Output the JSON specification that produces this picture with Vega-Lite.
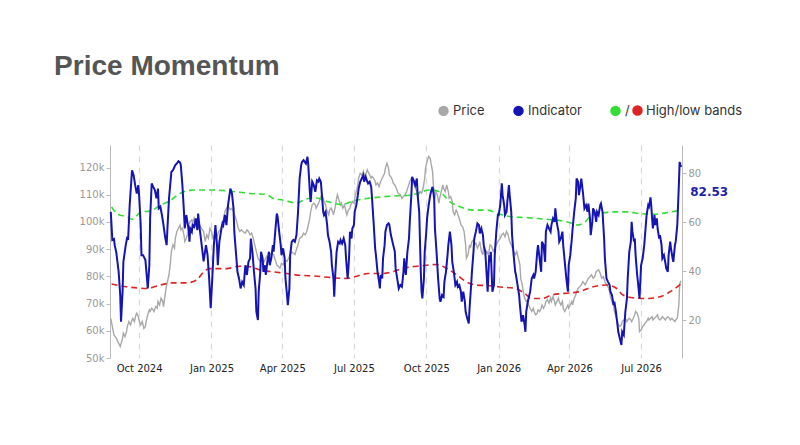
{
  "$schema": "https://vega.github.io/schema/vega-lite/v6.json",
  "width": 572,
  "height": 213,
  "autosize": {"type": "none"},
  "padding": {"left": 110, "top": 145, "right": 118, "bottom": 87},
  "background": "white",
  "title": {"text": "Price Momentum", "anchor": "start", "dx": -25, "offset": 23, "font": "Liberation Sans", "fontSize": 28, "fontWeight": "bold", "color": "#555555"},
  "config": {"view": {"stroke": null}, "font": "DejaVu Sans"},
  "datasets": {
    "price": [
      {"date":"2024-08-26","price":64600},{"date":"2024-08-30","price":58500},{"date":"2024-09-02","price":57300},{"date":"2024-09-05","price":55400},{"date":"2024-09-07","price":54200},{"date":"2024-09-10","price":57300},{"date":"2024-09-11","price":59100},{"date":"2024-09-13","price":57900},{"date":"2024-09-15","price":59700},{"date":"2024-09-16","price":61600},{"date":"2024-09-18","price":63400},{"date":"2024-09-20","price":62200},{"date":"2024-09-22","price":64000},{"date":"2024-09-23","price":64600},{"date":"2024-09-25","price":63400},{"date":"2024-09-27","price":65900},{"date":"2024-09-28","price":66500},{"date":"2024-09-30","price":65200},
      {"date":"2024-10-02","price":62800},{"date":"2024-10-03","price":62200},{"date":"2024-10-05","price":63400},{"date":"2024-10-07","price":60900},{"date":"2024-10-09","price":61600},{"date":"2024-10-10","price":63400},{"date":"2024-10-12","price":65900},{"date":"2024-10-14","price":67700},{"date":"2024-10-15","price":67100},{"date":"2024-10-17","price":68300},{"date":"2024-10-19","price":67700},{"date":"2024-10-20","price":67100},{"date":"2024-10-22","price":68900},{"date":"2024-10-24","price":68300},{"date":"2024-10-25","price":70800},{"date":"2024-10-27","price":69500},{"date":"2024-10-29","price":72000},{"date":"2024-10-31","price":70800},
      {"date":"2024-11-01","price":68900},{"date":"2024-11-03","price":73200},{"date":"2024-11-05","price":76900},{"date":"2024-11-06","price":78100},{"date":"2024-11-08","price":80600},{"date":"2024-11-10","price":85500},{"date":"2024-11-11","price":89200},{"date":"2024-11-13","price":91600},{"date":"2024-11-15","price":90400},{"date":"2024-11-16","price":94000},{"date":"2024-11-18","price":96500},{"date":"2024-11-20","price":97700},{"date":"2024-11-22","price":98900},{"date":"2024-11-23","price":97100},{"date":"2024-11-25","price":97700},{"date":"2024-11-27","price":95300},{"date":"2024-11-28","price":92800},{"date":"2024-11-30","price":94000},
      {"date":"2024-12-02","price":95900},{"date":"2024-12-03","price":98900},{"date":"2024-12-05","price":100200},{"date":"2024-12-07","price":100800},{"date":"2024-12-08","price":99600},{"date":"2024-12-10","price":101400},{"date":"2024-12-12","price":98900},{"date":"2024-12-13","price":99600},{"date":"2024-12-15","price":97700},{"date":"2024-12-17","price":98900},{"date":"2024-12-19","price":97700},{"date":"2024-12-22","price":96500},{"date":"2024-12-24","price":92800},{"date":"2024-12-26","price":95300},{"date":"2024-12-28","price":94000},{"date":"2024-12-30","price":97700},
      {"date":"2025-01-01","price":96500},{"date":"2025-01-03","price":94000},{"date":"2025-01-05","price":95300},{"date":"2025-01-08","price":94600},{"date":"2025-01-10","price":96500},{"date":"2025-01-12","price":97100},{"date":"2025-01-14","price":98900},{"date":"2025-01-16","price":100200},{"date":"2025-01-18","price":103800},{"date":"2025-01-20","price":105100},{"date":"2025-01-22","price":105700},{"date":"2025-01-25","price":104500},{"date":"2025-01-27","price":105100},{"date":"2025-01-29","price":103800},{"date":"2025-01-31","price":102000},
      {"date":"2025-02-02","price":100200},{"date":"2025-02-04","price":97700},{"date":"2025-02-06","price":96500},{"date":"2025-02-08","price":97100},{"date":"2025-02-10","price":96500},{"date":"2025-02-13","price":95900},{"date":"2025-02-15","price":97100},{"date":"2025-02-17","price":96500},{"date":"2025-02-19","price":95300},{"date":"2025-02-21","price":95900},{"date":"2025-02-23","price":94000},{"date":"2025-02-25","price":91600},{"date":"2025-02-27","price":89200},
      {"date":"2025-03-01","price":86700},{"date":"2025-03-04","price":85500},{"date":"2025-03-06","price":86700},{"date":"2025-03-08","price":84900},{"date":"2025-03-10","price":86100},{"date":"2025-03-12","price":87300},{"date":"2025-03-14","price":86100},{"date":"2025-03-16","price":87900},{"date":"2025-03-18","price":88500},{"date":"2025-03-21","price":87900},{"date":"2025-03-23","price":86100},{"date":"2025-03-25","price":84200},{"date":"2025-03-27","price":83600},{"date":"2025-03-29","price":83000},{"date":"2025-03-31","price":84800},
      {"date":"2025-04-02","price":84200},{"date":"2025-04-04","price":86100},{"date":"2025-04-07","price":85500},{"date":"2025-04-09","price":86700},{"date":"2025-04-11","price":88000},{"date":"2025-04-13","price":89000},{"date":"2025-04-15","price":88500},{"date":"2025-04-17","price":88000},{"date":"2025-04-19","price":90000},{"date":"2025-04-21","price":91600},{"date":"2025-04-23","price":94000},{"date":"2025-04-26","price":94600},{"date":"2025-04-28","price":95900},{"date":"2025-04-30","price":95300},
      {"date":"2025-05-02","price":96500},{"date":"2025-05-04","price":98900},{"date":"2025-05-06","price":101400},{"date":"2025-05-07","price":103800},{"date":"2025-05-09","price":106300},{"date":"2025-05-11","price":106900},{"date":"2025-05-13","price":106300},{"date":"2025-05-14","price":105100},{"date":"2025-05-16","price":106300},{"date":"2025-05-18","price":107500},{"date":"2025-05-19","price":108700},{"date":"2025-05-21","price":110000},{"date":"2025-05-23","price":108700},{"date":"2025-05-24","price":107500},{"date":"2025-05-26","price":106300},{"date":"2025-05-28","price":103800},{"date":"2025-05-30","price":102600},{"date":"2025-05-31","price":104400},
      {"date":"2025-06-02","price":105100},{"date":"2025-06-04","price":103800},{"date":"2025-06-05","price":102600},{"date":"2025-06-07","price":105100},{"date":"2025-06-09","price":108700},{"date":"2025-06-10","price":110000},{"date":"2025-06-12","price":108100},{"date":"2025-06-14","price":106300},{"date":"2025-06-15","price":106900},{"date":"2025-06-17","price":105100},{"date":"2025-06-19","price":106300},{"date":"2025-06-21","price":103800},{"date":"2025-06-22","price":102600},{"date":"2025-06-24","price":104400},{"date":"2025-06-26","price":105100},{"date":"2025-06-27","price":106300},{"date":"2025-06-29","price":107500},
      {"date":"2025-07-01","price":106900},{"date":"2025-07-02","price":108700},{"date":"2025-07-04","price":111200},{"date":"2025-07-06","price":113600},{"date":"2025-07-07","price":116100},{"date":"2025-07-09","price":117900},{"date":"2025-07-11","price":117300},{"date":"2025-07-13","price":118500},{"date":"2025-07-14","price":116700},{"date":"2025-07-16","price":117300},{"date":"2025-07-18","price":119200},{"date":"2025-07-19","price":118500},{"date":"2025-07-21","price":117300},{"date":"2025-07-23","price":116100},{"date":"2025-07-24","price":116700},{"date":"2025-07-26","price":116100},{"date":"2025-07-28","price":114900},{"date":"2025-07-29","price":113600},{"date":"2025-07-31","price":114300},
      {"date":"2025-08-02","price":113000},{"date":"2025-08-04","price":114900},{"date":"2025-08-05","price":115500},{"date":"2025-08-07","price":116700},{"date":"2025-08-09","price":117900},{"date":"2025-08-10","price":119800},{"date":"2025-08-12","price":121600},{"date":"2025-08-14","price":119800},{"date":"2025-08-15","price":117300},{"date":"2025-08-18","price":116100},{"date":"2025-08-20","price":114300},{"date":"2025-08-22","price":113600},{"date":"2025-08-24","price":112400},{"date":"2025-08-26","price":110600},{"date":"2025-08-29","price":110000},{"date":"2025-08-31","price":108700},
      {"date":"2025-09-02","price":109400},{"date":"2025-09-04","price":110000},{"date":"2025-09-06","price":111200},{"date":"2025-09-08","price":113000},{"date":"2025-09-10","price":114900},{"date":"2025-09-12","price":116100},{"date":"2025-09-14","price":114900},{"date":"2025-09-17","price":112400},{"date":"2025-09-19","price":111200},{"date":"2025-09-21","price":110000},{"date":"2025-09-23","price":111200},{"date":"2025-09-25","price":110600},{"date":"2025-09-27","price":112400},{"date":"2025-09-29","price":116100},{"date":"2025-09-30","price":119800},
      {"date":"2025-10-02","price":122200},{"date":"2025-10-04","price":124100},{"date":"2025-10-06","price":123400},{"date":"2025-10-07","price":121600},{"date":"2025-10-09","price":118500},{"date":"2025-10-10","price":113600},{"date":"2025-10-12","price":108700},{"date":"2025-10-13","price":111200},{"date":"2025-10-15","price":110000},{"date":"2025-10-17","price":106900},{"date":"2025-10-18","price":108700},{"date":"2025-10-20","price":111200},{"date":"2025-10-22","price":113600},{"date":"2025-10-23","price":112400},{"date":"2025-10-25","price":111200},{"date":"2025-10-27","price":113600},{"date":"2025-10-29","price":111200},{"date":"2025-10-30","price":108700},
      {"date":"2025-11-01","price":109300},{"date":"2025-11-03","price":107500},{"date":"2025-11-04","price":103800},{"date":"2025-11-06","price":102600},{"date":"2025-11-08","price":104400},{"date":"2025-11-09","price":103800},{"date":"2025-11-11","price":102000},{"date":"2025-11-13","price":100200},{"date":"2025-11-14","price":98900},{"date":"2025-11-16","price":98300},{"date":"2025-11-18","price":96500},{"date":"2025-11-20","price":91600},{"date":"2025-11-21","price":86700},{"date":"2025-11-23","price":87900},{"date":"2025-11-25","price":91600},{"date":"2025-11-26","price":90400},{"date":"2025-11-28","price":92800},{"date":"2025-11-30","price":93400},
      {"date":"2025-12-01","price":91600},{"date":"2025-12-03","price":92200},{"date":"2025-12-05","price":90400},{"date":"2025-12-07","price":91600},{"date":"2025-12-08","price":92800},{"date":"2025-12-10","price":89200},{"date":"2025-12-12","price":87900},{"date":"2025-12-13","price":91600},{"date":"2025-12-15","price":87900},{"date":"2025-12-17","price":89200},{"date":"2025-12-19","price":87900},{"date":"2025-12-21","price":91600},{"date":"2025-12-23","price":91000},{"date":"2025-12-25","price":89200},{"date":"2025-12-27","price":90400},{"date":"2025-12-29","price":91600},{"date":"2025-12-31","price":92800},
      {"date":"2026-01-03","price":94000},{"date":"2026-01-05","price":95300},{"date":"2026-01-07","price":95900},{"date":"2026-01-09","price":94600},{"date":"2026-01-11","price":96500},{"date":"2026-01-13","price":95300},{"date":"2026-01-15","price":92800},{"date":"2026-01-17","price":91600},{"date":"2026-01-20","price":89200},{"date":"2026-01-22","price":87900},{"date":"2026-01-24","price":89200},{"date":"2026-01-26","price":86700},{"date":"2026-01-28","price":84200},{"date":"2026-01-29","price":79300},{"date":"2026-01-31","price":76900},
      {"date":"2026-02-02","price":73200},{"date":"2026-02-03","price":72000},{"date":"2026-02-05","price":70800},{"date":"2026-02-07","price":71400},{"date":"2026-02-08","price":69500},{"date":"2026-02-10","price":68300},{"date":"2026-02-12","price":67100},{"date":"2026-02-14","price":68300},{"date":"2026-02-15","price":67100},{"date":"2026-02-17","price":65900},{"date":"2026-02-19","price":66500},{"date":"2026-02-20","price":67700},{"date":"2026-02-22","price":67100},{"date":"2026-02-24","price":68300},{"date":"2026-02-25","price":69500},{"date":"2026-02-27","price":68300},
      {"date":"2026-03-01","price":69500},{"date":"2026-03-02","price":70800},{"date":"2026-03-04","price":71400},{"date":"2026-03-06","price":70200},{"date":"2026-03-08","price":72000},{"date":"2026-03-09","price":70800},{"date":"2026-03-11","price":72600},{"date":"2026-03-13","price":70800},{"date":"2026-03-14","price":69500},{"date":"2026-03-16","price":70800},{"date":"2026-03-18","price":72000},{"date":"2026-03-19","price":70800},{"date":"2026-03-21","price":69500},{"date":"2026-03-23","price":70800},{"date":"2026-03-24","price":68300},{"date":"2026-03-26","price":67100},{"date":"2026-03-28","price":68300},{"date":"2026-03-30","price":69500},{"date":"2026-03-31","price":68300},
      {"date":"2026-04-02","price":69500},{"date":"2026-04-04","price":70800},{"date":"2026-04-05","price":69500},{"date":"2026-04-07","price":72000},{"date":"2026-04-09","price":73200},{"date":"2026-04-10","price":74400},{"date":"2026-04-12","price":75600},{"date":"2026-04-14","price":76200},{"date":"2026-04-16","price":76900},{"date":"2026-04-18","price":78100},{"date":"2026-04-21","price":76900},{"date":"2026-04-23","price":78100},{"date":"2026-04-25","price":79300},{"date":"2026-04-27","price":79900},{"date":"2026-04-29","price":80600},
      {"date":"2026-05-01","price":79300},{"date":"2026-05-03","price":79900},{"date":"2026-05-05","price":81800},{"date":"2026-05-08","price":82400},{"date":"2026-05-10","price":81200},{"date":"2026-05-12","price":79300},{"date":"2026-05-14","price":79900},{"date":"2026-05-16","price":78100},{"date":"2026-05-18","price":76900},{"date":"2026-05-20","price":76200},{"date":"2026-05-22","price":74400},{"date":"2026-05-23","price":72600},{"date":"2026-05-25","price":70800},{"date":"2026-05-27","price":69500},{"date":"2026-05-28","price":67100},{"date":"2026-05-30","price":65200},
      {"date":"2026-06-01","price":63400},{"date":"2026-06-02","price":62200},{"date":"2026-06-04","price":61600},{"date":"2026-06-06","price":62200},{"date":"2026-06-07","price":63400},{"date":"2026-06-09","price":64000},{"date":"2026-06-11","price":64600},{"date":"2026-06-13","price":63400},{"date":"2026-06-14","price":64000},{"date":"2026-06-16","price":64600},{"date":"2026-06-18","price":64000},{"date":"2026-06-19","price":63400},{"date":"2026-06-21","price":64600},{"date":"2026-06-23","price":65900},{"date":"2026-06-24","price":67100},{"date":"2026-06-26","price":66500},{"date":"2026-06-28","price":64600},{"date":"2026-06-29","price":59700},
      {"date":"2026-07-01","price":60300},{"date":"2026-07-03","price":61600},{"date":"2026-07-05","price":62200},{"date":"2026-07-06","price":62800},{"date":"2026-07-08","price":63400},{"date":"2026-07-10","price":64600},{"date":"2026-07-11","price":64000},{"date":"2026-07-13","price":64600},{"date":"2026-07-15","price":65200},{"date":"2026-07-16","price":64000},{"date":"2026-07-18","price":64600},{"date":"2026-07-20","price":65200},{"date":"2026-07-22","price":65900},{"date":"2026-07-23","price":64600},{"date":"2026-07-25","price":64000},{"date":"2026-07-27","price":64600},{"date":"2026-07-28","price":65200},{"date":"2026-07-30","price":64600},
      {"date":"2026-08-01","price":64000},{"date":"2026-08-02","price":64600},{"date":"2026-08-04","price":65200},{"date":"2026-08-06","price":64600},{"date":"2026-08-07","price":64000},{"date":"2026-08-09","price":64600},{"date":"2026-08-11","price":64000},{"date":"2026-08-13","price":63400},{"date":"2026-08-14","price":64000},{"date":"2026-08-16","price":64600},{"date":"2026-08-18","price":69500},{"date":"2026-08-19","price":76900},{"date":"2026-08-20","price":78100},{"date":"2026-08-21","price":77800}
    ],
    "indicator": [
      {"date":"2024-08-26","value":64.2},{"date":"2024-08-28","value":52.7},{"date":"2024-08-30","value":53.1},{"date":"2024-08-31","value":50.6},{"date":"2024-09-02","value":47.6},{"date":"2024-09-05","value":39.7},{"date":"2024-09-07","value":30.2},{"date":"2024-09-08","value":19.3},{"date":"2024-09-10","value":31.6},{"date":"2024-09-11","value":43.8},{"date":"2024-09-14","value":50.6},{"date":"2024-09-16","value":54},{"date":"2024-09-17","value":52.7},{"date":"2024-09-19","value":66.9},{"date":"2024-09-22","value":81.2},{"date":"2024-09-24","value":79.2},{"date":"2024-09-26","value":75.1},{"date":"2024-09-28","value":71.7},{"date":"2024-09-30","value":75.1},
      {"date":"2024-10-01","value":71},{"date":"2024-10-03","value":58.8},{"date":"2024-10-04","value":46.5},{"date":"2024-10-06","value":46.5},{"date":"2024-10-09","value":44.5},{"date":"2024-10-11","value":37},{"date":"2024-10-12","value":32.9},{"date":"2024-10-14","value":42.4},{"date":"2024-10-15","value":61.5},{"date":"2024-10-17","value":75.8},{"date":"2024-10-19","value":74.4},{"date":"2024-10-21","value":73.1},{"date":"2024-10-23","value":69.7},{"date":"2024-10-25","value":73.7},{"date":"2024-10-26","value":65.6},{"date":"2024-10-28","value":66.3},{"date":"2024-10-30","value":62.9},
      {"date":"2024-11-01","value":58.8},{"date":"2024-11-03","value":54},{"date":"2024-11-05","value":50.6},{"date":"2024-11-06","value":57.4},{"date":"2024-11-08","value":69.7},{"date":"2024-11-11","value":80.5},{"date":"2024-11-13","value":81.2},{"date":"2024-11-16","value":83.3},{"date":"2024-11-18","value":84},{"date":"2024-11-20","value":84.9},{"date":"2024-11-22","value":84.4},{"date":"2024-11-23","value":83.3},{"date":"2024-11-25","value":75.1},{"date":"2024-11-27","value":64.2},{"date":"2024-11-28","value":57.4},{"date":"2024-11-30","value":62.9},
      {"date":"2024-12-01","value":60.8},{"date":"2024-12-03","value":56.7},{"date":"2024-12-04","value":52},{"date":"2024-12-05","value":57.4},{"date":"2024-12-07","value":56.1},{"date":"2024-12-08","value":58.8},{"date":"2024-12-10","value":58.1},{"date":"2024-12-12","value":61.5},{"date":"2024-12-14","value":56.7},{"date":"2024-12-15","value":63.5},{"date":"2024-12-17","value":57.4},{"date":"2024-12-19","value":52},{"date":"2024-12-22","value":44},{"date":"2024-12-25","value":50.6},{"date":"2024-12-27","value":46.5},{"date":"2024-12-29","value":37},{"date":"2024-12-31","value":24.8},
      {"date":"2025-01-02","value":37},{"date":"2025-01-04","value":50.6},{"date":"2025-01-06","value":58.8},{"date":"2025-01-08","value":50.6},{"date":"2025-01-09","value":42.4},{"date":"2025-01-11","value":51.9},{"date":"2025-01-13","value":56.1},{"date":"2025-01-15","value":59.5},{"date":"2025-01-16","value":58.8},{"date":"2025-01-18","value":62.9},{"date":"2025-01-20","value":58.8},{"date":"2025-01-22","value":66.9},{"date":"2025-01-25","value":73.7},{"date":"2025-01-27","value":71.7},{"date":"2025-01-29","value":65.6},{"date":"2025-01-30","value":56.1},
      {"date":"2025-02-01","value":47.9},{"date":"2025-02-03","value":39.7},{"date":"2025-02-05","value":37},{"date":"2025-02-07","value":32.9},{"date":"2025-02-09","value":35.6},{"date":"2025-02-11","value":34.3},{"date":"2025-02-13","value":42.4},{"date":"2025-02-15","value":38.4},{"date":"2025-02-17","value":43.8},{"date":"2025-02-19","value":45.2},{"date":"2025-02-20","value":53.3},{"date":"2025-02-22","value":47.9},{"date":"2025-02-24","value":39.7},{"date":"2025-02-26","value":32.9},{"date":"2025-02-27","value":23.4},
      {"date":"2025-03-01","value":20},{"date":"2025-03-02","value":31.6},{"date":"2025-03-04","value":39.7},{"date":"2025-03-05","value":47.9},{"date":"2025-03-07","value":45.2},{"date":"2025-03-08","value":39.7},{"date":"2025-03-10","value":42.4},{"date":"2025-03-11","value":38.4},{"date":"2025-03-13","value":43.8},{"date":"2025-03-15","value":47.9},{"date":"2025-03-16","value":42.4},{"date":"2025-03-18","value":45.2},{"date":"2025-03-20","value":50.6},{"date":"2025-03-21","value":47.9},{"date":"2025-03-23","value":56.1},{"date":"2025-03-25","value":63.5},{"date":"2025-03-26","value":62.2},{"date":"2025-03-28","value":56.1},{"date":"2025-03-30","value":50.6},{"date":"2025-03-31","value":46.5},
      {"date":"2025-04-02","value":49.3},{"date":"2025-04-04","value":45.2},{"date":"2025-04-05","value":37},{"date":"2025-04-07","value":30.2},{"date":"2025-04-08","value":26.1},{"date":"2025-04-10","value":32.9},{"date":"2025-04-11","value":46.5},{"date":"2025-04-13","value":52},{"date":"2025-04-15","value":52.7},{"date":"2025-04-17","value":52},{"date":"2025-04-19","value":54.7},{"date":"2025-04-21","value":64.2},{"date":"2025-04-23","value":77.8},{"date":"2025-04-25","value":83.3},{"date":"2025-04-26","value":84.6},{"date":"2025-04-28","value":85.3},
      {"date":"2025-05-01","value":83.9},{"date":"2025-05-03","value":86.7},{"date":"2025-05-04","value":83.3},{"date":"2025-05-06","value":72.4},{"date":"2025-05-07","value":68.3},{"date":"2025-05-09","value":76.5},{"date":"2025-05-11","value":75.1},{"date":"2025-05-13","value":72.4},{"date":"2025-05-15","value":77.1},{"date":"2025-05-17","value":76.5},{"date":"2025-05-18","value":77.8},{"date":"2025-05-20","value":76.5},{"date":"2025-05-21","value":72.4},{"date":"2025-05-23","value":64.2},{"date":"2025-05-24","value":62.9},{"date":"2025-05-26","value":64.2},{"date":"2025-05-28","value":58.8},{"date":"2025-05-29","value":54.7},{"date":"2025-05-31","value":52},
      {"date":"2025-06-02","value":47.9},{"date":"2025-06-03","value":42.4},{"date":"2025-06-05","value":37},{"date":"2025-06-06","value":29.5},{"date":"2025-06-07","value":37},{"date":"2025-06-09","value":47.9},{"date":"2025-06-11","value":52},{"date":"2025-06-13","value":51.3},{"date":"2025-06-14","value":52.7},{"date":"2025-06-16","value":51.3},{"date":"2025-06-18","value":53.3},{"date":"2025-06-20","value":50.6},{"date":"2025-06-21","value":45.2},{"date":"2025-06-23","value":37},{"date":"2025-06-24","value":41.1},{"date":"2025-06-25","value":46.5},{"date":"2025-06-26","value":56.1},{"date":"2025-06-28","value":53.3},{"date":"2025-06-29","value":57.4},
      {"date":"2025-07-01","value":58.8},{"date":"2025-07-02","value":64.2},{"date":"2025-07-04","value":66.9},{"date":"2025-07-06","value":71},{"date":"2025-07-07","value":73.7},{"date":"2025-07-09","value":76.5},{"date":"2025-07-11","value":77.8},{"date":"2025-07-13","value":79.2},{"date":"2025-07-14","value":76.5},{"date":"2025-07-16","value":78.5},{"date":"2025-07-18","value":76.5},{"date":"2025-07-19","value":75.8},{"date":"2025-07-21","value":76.5},{"date":"2025-07-23","value":74.4},{"date":"2025-07-24","value":69.9},{"date":"2025-07-26","value":60.1},{"date":"2025-07-28","value":49.3},{"date":"2025-07-29","value":46.5},{"date":"2025-07-31","value":39.7},
      {"date":"2025-08-02","value":35.6},{"date":"2025-08-03","value":32.9},{"date":"2025-08-04","value":38.4},{"date":"2025-08-06","value":37},{"date":"2025-08-07","value":45.2},{"date":"2025-08-09","value":50.6},{"date":"2025-08-10","value":56.1},{"date":"2025-08-12","value":58.8},{"date":"2025-08-14","value":59.5},{"date":"2025-08-15","value":59},{"date":"2025-08-17","value":54.7},{"date":"2025-08-20","value":50.6},{"date":"2025-08-22","value":47.9},{"date":"2025-08-23","value":41.1},{"date":"2025-08-25","value":37},{"date":"2025-08-27","value":32.9},{"date":"2025-08-29","value":34.3},{"date":"2025-08-31","value":33.6},
      {"date":"2025-09-02","value":39.7},{"date":"2025-09-03","value":45.2},{"date":"2025-09-04","value":41.1},{"date":"2025-09-05","value":38.4},{"date":"2025-09-07","value":47.9},{"date":"2025-09-09","value":53.3},{"date":"2025-09-10","value":60.1},{"date":"2025-09-12","value":71},{"date":"2025-09-13","value":78.5},{"date":"2025-09-15","value":77.1},{"date":"2025-09-17","value":75.1},{"date":"2025-09-19","value":77.8},{"date":"2025-09-20","value":71},{"date":"2025-09-22","value":64.2},{"date":"2025-09-23","value":52},{"date":"2025-09-24","value":39.7},{"date":"2025-09-25","value":31.6},{"date":"2025-09-26","value":28.8},{"date":"2025-09-28","value":37},{"date":"2025-09-29","value":47.9},
      {"date":"2025-10-01","value":56.1},{"date":"2025-10-02","value":61.5},{"date":"2025-10-04","value":66.9},{"date":"2025-10-06","value":71},{"date":"2025-10-07","value":72.4},{"date":"2025-10-09","value":74.4},{"date":"2025-10-11","value":69.7},{"date":"2025-10-12","value":57.4},{"date":"2025-10-14","value":47.9},{"date":"2025-10-16","value":37},{"date":"2025-10-18","value":28.8},{"date":"2025-10-19","value":27.5},{"date":"2025-10-21","value":30.2},{"date":"2025-10-23","value":29.5},{"date":"2025-10-24","value":35.6},{"date":"2025-10-26","value":39.7},{"date":"2025-10-28","value":46.5},{"date":"2025-10-29","value":50.6},{"date":"2025-10-31","value":56.1},
      {"date":"2025-11-02","value":50.6},{"date":"2025-11-03","value":43.8},{"date":"2025-11-05","value":39.7},{"date":"2025-11-07","value":34.3},{"date":"2025-11-09","value":35.6},{"date":"2025-11-10","value":33.6},{"date":"2025-11-12","value":34.3},{"date":"2025-11-14","value":31.6},{"date":"2025-11-15","value":27.5},{"date":"2025-11-17","value":31.6},{"date":"2025-11-19","value":27.5},{"date":"2025-11-20","value":23.4},{"date":"2025-11-22","value":20.7},{"date":"2025-11-24","value":18.6},{"date":"2025-11-25","value":24.8},{"date":"2025-11-27","value":34.3},{"date":"2025-11-28","value":39.7},{"date":"2025-11-30","value":47.9},
      {"date":"2025-12-01","value":53.3},{"date":"2025-12-03","value":56.1},{"date":"2025-12-05","value":59.5},{"date":"2025-12-07","value":58.8},{"date":"2025-12-08","value":55.4},{"date":"2025-12-10","value":57.4},{"date":"2025-12-12","value":54.7},{"date":"2025-12-13","value":50.6},{"date":"2025-12-15","value":47.9},{"date":"2025-12-16","value":42.4},{"date":"2025-12-18","value":31.6},{"date":"2025-12-20","value":46.5},{"date":"2025-12-21","value":43.8},{"date":"2025-12-22","value":47.9},{"date":"2025-12-24","value":31.6},{"date":"2025-12-26","value":34.3},{"date":"2025-12-27","value":46.5},{"date":"2025-12-29","value":56.1},{"date":"2025-12-31","value":62.9},
      {"date":"2026-01-01","value":62.9},{"date":"2026-01-03","value":66.9},{"date":"2026-01-05","value":75.8},{"date":"2026-01-06","value":71},{"date":"2026-01-08","value":66.9},{"date":"2026-01-09","value":62.9},{"date":"2026-01-11","value":64.2},{"date":"2026-01-12","value":68.3},{"date":"2026-01-14","value":75.1},{"date":"2026-01-15","value":71},{"date":"2026-01-17","value":64.2},{"date":"2026-01-18","value":54.7},{"date":"2026-01-20","value":46.5},{"date":"2026-01-22","value":39.7},{"date":"2026-01-23","value":38.4},{"date":"2026-01-25","value":34.3},{"date":"2026-01-27","value":30.2},{"date":"2026-01-28","value":26.1},{"date":"2026-01-30","value":19.3},
      {"date":"2026-02-01","value":22},{"date":"2026-02-03","value":18},{"date":"2026-02-04","value":15.2},{"date":"2026-02-05","value":23.4},{"date":"2026-02-07","value":27.5},{"date":"2026-02-08","value":28.8},{"date":"2026-02-10","value":31.6},{"date":"2026-02-12","value":37},{"date":"2026-02-14","value":38.4},{"date":"2026-02-15","value":37},{"date":"2026-02-17","value":39.7},{"date":"2026-02-19","value":47.9},{"date":"2026-02-20","value":50.6},{"date":"2026-02-22","value":45.2},{"date":"2026-02-24","value":39.7},{"date":"2026-02-25","value":52},{"date":"2026-02-27","value":50.6},
      {"date":"2026-03-01","value":43.8},{"date":"2026-03-02","value":56.1},{"date":"2026-03-04","value":58.8},{"date":"2026-03-06","value":57.4},{"date":"2026-03-08","value":56.1},{"date":"2026-03-09","value":58.8},{"date":"2026-03-11","value":61.5},{"date":"2026-03-13","value":60.1},{"date":"2026-03-14","value":65.6},{"date":"2026-03-16","value":59.5},{"date":"2026-03-18","value":56.1},{"date":"2026-03-19","value":52},{"date":"2026-03-21","value":53.3},{"date":"2026-03-23","value":56.1},{"date":"2026-03-24","value":50.6},{"date":"2026-03-26","value":43.8},{"date":"2026-03-28","value":37},{"date":"2026-03-30","value":31.6},{"date":"2026-03-31","value":42.4},
      {"date":"2026-04-02","value":46.5},{"date":"2026-04-04","value":53.3},{"date":"2026-04-05","value":57.4},{"date":"2026-04-07","value":64.2},{"date":"2026-04-09","value":69.7},{"date":"2026-04-10","value":77.8},{"date":"2026-04-12","value":76.5},{"date":"2026-04-13","value":71},{"date":"2026-04-15","value":75.1},{"date":"2026-04-16","value":77.8},{"date":"2026-04-18","value":72.4},{"date":"2026-04-20","value":65.6},{"date":"2026-04-22","value":66.9},{"date":"2026-04-24","value":64.2},{"date":"2026-04-25","value":67.6},{"date":"2026-04-27","value":61.5},{"date":"2026-04-28","value":54.7},{"date":"2026-04-30","value":60.1},
      {"date":"2026-05-01","value":65.6},{"date":"2026-05-03","value":64.2},{"date":"2026-05-05","value":60.1},{"date":"2026-05-06","value":64.2},{"date":"2026-05-08","value":62.9},{"date":"2026-05-10","value":66.9},{"date":"2026-05-11","value":67.6},{"date":"2026-05-13","value":64.2},{"date":"2026-05-15","value":53.3},{"date":"2026-05-16","value":45.2},{"date":"2026-05-18","value":37},{"date":"2026-05-20","value":35.6},{"date":"2026-05-22","value":34.3},{"date":"2026-05-23","value":31.6},{"date":"2026-05-25","value":30.2},{"date":"2026-05-27","value":26.1},{"date":"2026-05-28","value":27.5},{"date":"2026-05-30","value":23.4},
      {"date":"2026-06-01","value":18},{"date":"2026-06-02","value":15.2},{"date":"2026-06-04","value":12.5},{"date":"2026-06-06","value":9.8},{"date":"2026-06-07","value":15.2},{"date":"2026-06-09","value":13.9},{"date":"2026-06-11","value":23.4},{"date":"2026-06-13","value":28.8},{"date":"2026-06-14","value":37},{"date":"2026-06-16","value":47.9},{"date":"2026-06-18","value":52},{"date":"2026-06-19","value":60.1},{"date":"2026-06-20","value":56.1},{"date":"2026-06-22","value":52},{"date":"2026-06-23","value":53.3},{"date":"2026-06-24","value":46.5},{"date":"2026-06-26","value":38.4},{"date":"2026-06-27","value":35.6},{"date":"2026-06-29","value":28.8},{"date":"2026-06-30","value":35.6},
      {"date":"2026-07-01","value":42.4},{"date":"2026-07-03","value":45.2},{"date":"2026-07-05","value":50.6},{"date":"2026-07-06","value":54.7},{"date":"2026-07-08","value":62.9},{"date":"2026-07-10","value":66.9},{"date":"2026-07-11","value":66.3},{"date":"2026-07-13","value":70.1},{"date":"2026-07-14","value":66.3},{"date":"2026-07-15","value":61.5},{"date":"2026-07-16","value":57.4},{"date":"2026-07-18","value":62.9},{"date":"2026-07-19","value":58.8},{"date":"2026-07-21","value":61.5},{"date":"2026-07-22","value":57.4},{"date":"2026-07-24","value":53.3},{"date":"2026-07-25","value":54.7},{"date":"2026-07-27","value":50.6},{"date":"2026-07-28","value":45.2},{"date":"2026-07-30","value":46.5},
      {"date":"2026-08-01","value":43.1},{"date":"2026-08-02","value":41.1},{"date":"2026-08-04","value":39.7},{"date":"2026-08-05","value":46.5},{"date":"2026-08-07","value":52},{"date":"2026-08-08","value":49.3},{"date":"2026-08-10","value":45.2},{"date":"2026-08-11","value":43.8},{"date":"2026-08-13","value":50.6},{"date":"2026-08-14","value":52},{"date":"2026-08-16","value":58.8},{"date":"2026-08-18","value":75.1},{"date":"2026-08-19","value":84.6},{"date":"2026-08-20","value":83.3},{"date":"2026-08-21","value":82.53}
    ],
    "high": [
      {"date":"2024-08-27","value":66.2},{"date":"2024-09-04","value":63.2},{"date":"2024-09-15","value":62.2},{"date":"2024-09-22","value":61.2},{"date":"2024-10-04","value":64.2},{"date":"2024-10-15","value":64.5},{"date":"2024-10-28","value":66.9},{"date":"2024-11-09","value":68.7},{"date":"2024-11-22","value":71.7},{"date":"2024-12-09","value":73.1},{"date":"2025-01-03","value":73.1},{"date":"2025-02-06","value":72.2},{"date":"2025-02-19","value":71.7},{"date":"2025-03-12","value":71.3},{"date":"2025-03-20","value":69.7},{"date":"2025-04-02","value":69},{"date":"2025-04-19","value":67.8},{"date":"2025-04-30","value":69.3},{"date":"2025-05-12","value":70},{"date":"2025-05-29","value":68.3},{"date":"2025-06-15","value":67.2},{"date":"2025-07-02","value":68.8},{"date":"2025-07-19","value":69.7},{"date":"2025-08-05","value":70.3},{"date":"2025-08-22","value":70.7},{"date":"2025-09-10","value":71},{"date":"2025-10-06","value":73.1},{"date":"2025-10-18","value":72.4},{"date":"2025-10-31","value":68.3},{"date":"2025-11-13","value":66.3},{"date":"2025-11-29","value":64.9},{"date":"2025-12-17","value":64.9},{"date":"2025-12-31","value":63.5},{"date":"2026-01-17","value":62.2},{"date":"2026-02-07","value":61.8},{"date":"2026-03-01","value":61.2},{"date":"2026-03-17","value":60.8},{"date":"2026-04-04","value":59.5},{"date":"2026-04-10","value":58.8},{"date":"2026-04-21","value":60.1},{"date":"2026-04-27","value":62.2},{"date":"2026-05-10","value":63.5},{"date":"2026-05-26","value":64.2},{"date":"2026-06-13","value":64.2},{"date":"2026-06-29","value":63.5},{"date":"2026-07-16","value":63.2},{"date":"2026-08-02","value":63.8},{"date":"2026-08-21","value":65}
    ],
    "low": [
      {"date":"2024-08-27","value":34.7},{"date":"2024-09-15","value":33.6},{"date":"2024-10-11","value":32.9},{"date":"2024-10-28","value":34.3},{"date":"2024-11-13","value":35.2},{"date":"2024-11-30","value":35.2},{"date":"2024-12-13","value":36.3},{"date":"2024-12-22","value":39.7},{"date":"2024-12-30","value":41},{"date":"2025-01-20","value":41},{"date":"2025-02-06","value":42},{"date":"2025-02-19","value":41.8},{"date":"2025-03-04","value":40.4},{"date":"2025-03-20","value":39.7},{"date":"2025-04-07","value":39},{"date":"2025-04-23","value":38.3},{"date":"2025-05-12","value":38},{"date":"2025-06-07","value":37.2},{"date":"2025-06-23","value":37},{"date":"2025-07-02","value":37.7},{"date":"2025-07-19","value":39},{"date":"2025-08-05","value":39},{"date":"2025-08-22","value":40},{"date":"2025-09-01","value":41.1},{"date":"2025-09-27","value":42.2},{"date":"2025-10-14","value":42.7},{"date":"2025-10-27","value":41.1},{"date":"2025-11-09","value":38.4},{"date":"2025-11-21","value":35.6},{"date":"2025-12-04","value":34.3},{"date":"2025-12-21","value":34},{"date":"2025-12-31","value":33.6},{"date":"2026-01-22","value":32.9},{"date":"2026-02-03","value":30.9},{"date":"2026-02-12","value":28.8},{"date":"2026-02-25","value":28.8},{"date":"2026-03-09","value":30.2},{"date":"2026-03-26","value":30.9},{"date":"2026-04-12","value":31.5},{"date":"2026-05-01","value":33.6},{"date":"2026-05-18","value":34.3},{"date":"2026-05-31","value":32.9},{"date":"2026-06-08","value":30.2},{"date":"2026-06-21","value":29.1},{"date":"2026-07-08","value":28.8},{"date":"2026-07-25","value":29.5},{"date":"2026-08-07","value":31.6},{"date":"2026-08-21","value":34.8}
    ],
    "label": [{"date":"2026-08-21","value":82.53,"label":"82.53"}]
  },
  "encoding": {
    "x": {
      "field": "date",
      "type": "temporal",
      "scale": {"type": "utc", "domain": ["2024-08-25", "2026-08-22"]},
      "axis": {
        "title": null,
        "format": "%b %Y",
        "tickCount": {"interval": "month", "step": 3},
        "domain": false,
        "ticks": false,
        "labelPadding": 5,
        "labelFont": "DejaVu Sans",
        "labelFontSize": 10,
        "labelColor": "#222222",
        "grid": true,
        "gridDash": [6, 5],
        "gridColor": "#d9d9d9",
        "gridWidth": 1.2
      }
    }
  },
  "layer": [
    {
      "data": {"name": "price"},
      "mark": {"type": "line", "strokeWidth": 1.4},
      "encoding": {
        "y": {
          "field": "price",
          "type": "quantitative",
          "scale": {"domain": [50000, 128300], "nice": false, "zero": false},
          "axis": {"title": null, "orient": "left", "values": [50000, 60000, 70000, 80000, 90000, 100000, 110000, 120000], "format": "~s", "grid": false, "labelColor": "#999999", "labelFont": "DejaVu Sans", "labelFontSize": 10, "domainColor": "#bbbbbb", "tickColor": "#bbbbbb", "tickSize": 4}
        },
        "color": {
          "datum": "Price",
          "type": "nominal",
          "title": null,
          "scale": {"domain": ["Price", "Indicator", "High band"], "range": ["#a8a8a8", "#1414b4", "#33dd33"]},
          "legend": {
            "orient": "none",
            "legendX": 327,
            "legendY": -41,
            "direction": "horizontal",
            "title": null,
            "symbolType": "circle",
            "symbolSize": 30,
            "symbolStrokeWidth": 5,
            "symbolDash": [],
            "columnPadding": 20,
            "labelOffset": 3,
            "labelFont": "Inter",
            "labelFontSize": 13,
            "labelColor": "#333333",
            "labelExpr": "datum.label == 'High band' ? '/' : datum.label"
          }
        }
      }
    },
    {
      "encoding": {
        "y": {
          "field": "value",
          "type": "quantitative",
          "scale": {"domain": [4.5, 91.5], "nice": false, "zero": false},
          "axis": {"title": null, "orient": "right", "values": [20, 40, 60, 80], "grid": false, "labelColor": "#999999", "labelFont": "DejaVu Sans", "labelFontSize": 10, "domainColor": "#bbbbbb", "tickColor": "#bbbbbb", "tickSize": 4}
        }
      },
      "layer": [
        {
          "data": {"name": "high"},
          "mark": {"type": "line", "strokeDash": [6, 4], "strokeWidth": 1.6, "interpolate": "monotone"},
          "encoding": {"color": {"datum": "High band", "type": "nominal", "title": null}}
        },
        {
          "data": {"name": "low"},
          "mark": {"type": "line", "strokeDash": [6, 4], "strokeWidth": 1.6, "interpolate": "monotone"},
          "encoding": {
            "stroke": {
              "datum": "High/low bands",
              "type": "nominal",
              "title": null,
              "scale": {"domain": ["High/low bands"], "range": ["#dd2424"]},
              "legend": {
                "orient": "none",
                "legendX": 521,
                "legendY": -41,
                "title": null,
                "symbolType": "circle",
                "symbolSize": 30,
                "symbolStrokeWidth": 5,
                "symbolFillColor": "#dd2424",
                "symbolDash": [],
                "labelOffset": 2,
                "labelFont": "Inter",
                "labelFontSize": 13,
                "labelColor": "#333333"
              }
            }
          }
        },
        {
          "data": {"name": "indicator"},
          "mark": {"type": "line", "strokeWidth": 2},
          "encoding": {"color": {"datum": "Indicator", "type": "nominal", "title": null}}
        },
        {
          "data": {"name": "label"},
          "mark": {"type": "text", "align": "left", "baseline": "middle", "dx": 9, "dy": 25, "font": "DejaVu Sans", "fontSize": 12, "fontWeight": "bold", "color": "#1f1fa6"},
          "encoding": {"text": {"field": "label"}}
        }
      ]
    }
  ],
  "resolve": {"scale": {"y": "independent"}}
}
